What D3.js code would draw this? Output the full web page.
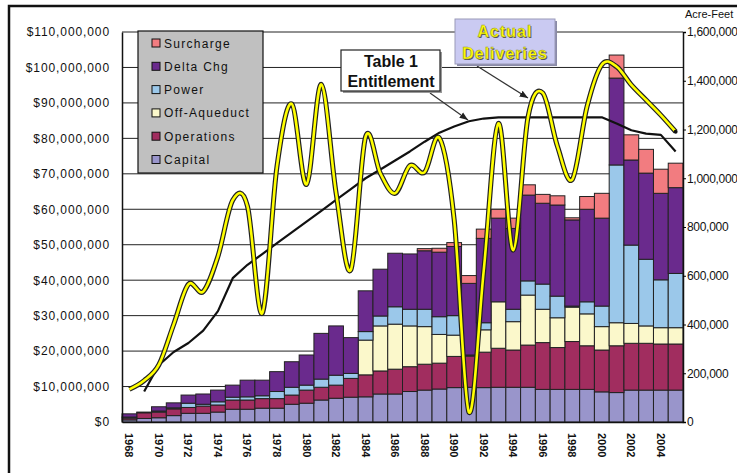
<!DOCTYPE html>
<html><head><meta charset="utf-8">
<script src="https://cdn.jsdelivr.net/npm/d3@7/dist/d3.min.js"></script>
<style>body{margin:0;background:#fff}svg{display:block}</style>
</head><body>
<script>
const years = [1968,1969,1970,1971,1972,1973,1974,1975,1976,1977,1978,1979,1980,1981,1982,1983,1984,1985,1986,1987,1988,1989,1990,1991,1992,1993,1994,1995,1996,1997,1998,1999,2000,2001,2002,2003,2004,2005];
// $ millions
const capital    = [0.6,1.0,1.2,1.8,2.45,2.45,2.8,3.6,3.6,3.9,3.9,5.0,5.3,6.2,6.7,7.0,7.1,7.9,7.9,8.6,9.0,9.3,9.7,9.8,9.7,9.8,9.8,9.8,9.2,9.2,9.2,9.2,8.5,8.3,9.0,9.0,9.0,9.0];
const operations = [0.5,1.6,1.6,1.9,1.65,2.05,2.0,2.6,2.6,2.7,2.7,2.6,3.7,3.6,3.7,5.3,6.2,6.5,7.0,7.0,7.3,7.3,8.8,8.8,10.0,11.0,10.5,11.9,13.2,11.8,13.5,12.3,11.8,13.2,13.2,13.2,13.0,13.0];
const offAqueduct= [0,0,0,0,0,0,0,0,0,0,0,0,0,0,0,0,9.8,12.7,12.7,11.5,10.6,8.1,6.0,0,6.3,13.1,8.0,14.1,9.4,8.4,9.7,9.0,6.6,6.5,5.6,4.9,4.6,4.6];
const power      = [0.3,0,0.3,0.3,1.2,0.5,0.9,0.8,0.9,0.8,2.0,2.2,1.4,2.3,2.8,1.4,2.4,2.8,4.9,4.7,4.9,5.0,5.5,0.3,2.0,0,3.5,4.0,7.1,6.1,0.3,3.4,5.8,44.5,22.1,18.8,13.5,15.3];
const deltaChg   = [0.9,0.2,1.2,1.4,2.3,2.9,3.3,3.4,4.7,4.4,5.6,7.2,8.5,12.9,13.9,10.1,11.5,13.2,15.1,15.6,16.5,18.2,19.5,20.2,23.8,23.6,22.8,24.2,22.8,25.7,24.3,26.1,24.8,24.5,24.0,24.3,24.4,24.2];
const surcharge  = [0,0,0,0,0,0,0,0,0,0,0,0,0,0,0,0,0,0,0,0,0.6,1.1,1.1,2.2,2.6,2.5,2.9,2.9,2.5,2.6,0.6,3.6,7.0,6.5,7.1,6.7,6.8,6.9];
// acre-feet
const actualDeliveries = [134000,170000,235000,400000,565000,535000,680000,910000,885000,446000,1050000,1305000,975000,1385000,940000,624000,1170000,1020000,938000,1052000,1025000,1165000,830000,40000,620000,1225000,705000,1250000,1350000,1130000,995000,1294000,1466000,1458000,1383000,1321000,1259000,1191000];
const table1Entitlement = [null,125000,234000,287000,324000,375000,455000,590000,645000,689000,734000,778000,822000,866000,911000,955000,1000000,1036000,1073000,1110000,1150000,1187000,1212000,1234000,1245000,1250000,1250000,1250000,1250000,1250000,1250000,1250000,1250000,1225000,1197000,1183000,1178000,1110000];
const leftTicks = [0,10,20,30,40,50,60,70,80,90,100,110];
const rightTicks = [0,200000,400000,600000,800000,1000000,1200000,1400000,1600000];
const xLabelYears = [1968,1970,1972,1974,1976,1978,1980,1982,1984,1986,1988,1990,1992,1994,1996,1998,2000,2002,2004];

const seriesKeys = ["Capital","Operations","Off-Aqueduct","Power","Delta Chg","Surcharge"];
const seriesArrays = [capital, operations, offAqueduct, power, deltaChg, surcharge];
const colors = {"Capital":"#9995CB","Operations":"#A12D5F","Off-Aqueduct":"#FBF8CB","Power":"#9BC8EA","Delta Chg":"#6A2A8D","Surcharge":"#F27C80"};

const W = 737, H = 473;
const svg = d3.select("body").append("svg").attr("width", W).attr("height", H)
  .style("font-family", "Arial, 'Liberation Sans', sans-serif");

const L = 122, R = 683, T = 32, B = 422;
const x = d3.scaleBand().domain(years).range([L, R]).padding(0);
const y = d3.scaleLinear().domain([0, 110]).range([B, T]);
const y2 = d3.scaleLinear().domain([0, 1600000]).range([B, T]);

// outer frame
svg.append("rect").attr("x", 9).attr("y", 6).attr("width", 760).attr("height", 500)
  .attr("fill", "none").attr("stroke", "#111").attr("stroke-width", 2.5);

// gridlines
svg.append("g").selectAll("line").data(leftTicks.filter(d => d > 0)).join("line")
  .attr("x1", L).attr("x2", R).attr("y1", d => y(d)).attr("y2", d => y(d))
  .attr("stroke", "#222").attr("stroke-width", 1);

// stacked bars
const rows = years.map((yr, i) => {
  const o = {year: yr};
  seriesKeys.forEach((k, j) => o[k] = seriesArrays[j][i]);
  return o;
});
const stacked = d3.stack().keys(seriesKeys)(rows);
svg.append("g").selectAll("g").data(stacked).join("g")
  .attr("fill", d => colors[d.key])
  .selectAll("rect").data(d => d.filter(p => p[1] - p[0] > 0)).join("rect")
  .attr("x", d => x(d.data.year))
  .attr("width", x.bandwidth())
  .attr("y", d => y(d[1]))
  .attr("height", d => y(d[0]) - y(d[1]))
  .attr("stroke", "#222").attr("stroke-width", 1);

// axes
const leftAxis = d3.axisLeft(y).tickValues(leftTicks).tickSize(0).tickPadding(12)
  .tickFormat(d => d3.format("$,")(d * 1e6));
const gl = svg.append("g").attr("transform", `translate(${L},0)`).call(leftAxis);
gl.select(".domain").attr("stroke", "#111").attr("stroke-width", 1.5);
gl.selectAll("text").attr("font-size", 12).attr("fill", "#111").attr("letter-spacing", "0.9px")
  .attr("font-family", "Arial, 'Liberation Sans', sans-serif");

const rightAxis = d3.axisRight(y2).tickValues(rightTicks).tickSize(3).tickPadding(1)
  .tickFormat(d3.format(","));
const gr = svg.append("g").attr("transform", `translate(${R},0)`).call(rightAxis);
gr.select(".domain").attr("stroke", "#111").attr("stroke-width", 1.5);
gr.selectAll("text").attr("font-size", 12).attr("fill", "#111").attr("letter-spacing", "-0.3px")
  .attr("font-family", "Arial, 'Liberation Sans', sans-serif");
svg.append("text").attr("x", 685).attr("y", 18).attr("font-size", 11).attr("fill", "#111")
  .text("Acre-Feet");

const bottomAxis = d3.axisBottom(x).tickValues(xLabelYears).tickSize(0).tickPadding(0);
const gb = svg.append("g").attr("transform", `translate(0,${B})`).call(bottomAxis);
gb.select(".domain").attr("stroke", "#111").attr("stroke-width", 1.5);
gb.selectAll("text")
  .attr("font-size", 11).attr("font-weight", "bold").attr("fill", "#111")
  .attr("font-family", "Arial, 'Liberation Sans', sans-serif")
  .attr("text-anchor", "start").attr("dy", null).attr("y", 0)
  .attr("transform", "translate(-4,11) rotate(90)");

// lines
const cx = d => x(d.year) + x.bandwidth() / 2;
const entData = years.map((yr, i) => ({year: yr, v: table1Entitlement[i]}));
const actData = years.map((yr, i) => ({year: yr, v: actualDeliveries[i]}));
const entLine = d3.line().defined(d => d.v != null).x(cx).y(d => y2(d.v)).curve(d3.curveLinear);
svg.append("path").datum(entData).attr("d", entLine).attr("fill", "none")
  .attr("stroke", "#111").attr("stroke-width", 2.2).attr("stroke-linejoin", "round");
const actLine = d3.line().x(cx).y(d => y2(d.v)).curve(d3.curveCardinal.tension(0));
svg.append("path").datum(actData).attr("d", actLine).attr("fill", "none")
  .attr("stroke", "#222").attr("stroke-width", 5).attr("stroke-linejoin", "round");
svg.append("path").datum(actData).attr("d", actLine).attr("fill", "none")
  .attr("stroke", "#FFFF00").attr("stroke-width", 2.6).attr("stroke-linejoin", "round");
const last = actData[actData.length - 1];
svg.append("circle").attr("cx", cx(last)).attr("cy", y2(last.v)).attr("r", 2).attr("fill", "#111");

// legend
const lg = svg.append("g");
lg.append("rect").attr("x", 138).attr("y", 31).attr("width", 125).attr("height", 142)
  .attr("fill", "#C0C0C0").attr("stroke", "#111").attr("stroke-width", 1.2);
const legendOrder = seriesKeys.slice().reverse();
legendOrder.forEach((k, i) => {
  const yy = 43 + i * 23.3;
  lg.append("rect").attr("x", 152).attr("y", yy - 4).attr("width", 8).attr("height", 8)
    .attr("fill", colors[k]).attr("stroke", "#111").attr("stroke-width", 1);
  lg.append("text").attr("x", 164).attr("y", yy + 4.5).attr("font-size", 12)
    .attr("letter-spacing", "1.3px").attr("fill", "#111").text(k);
});

// annotation: Table 1 Entitlement
const defs = svg.append("defs");
defs.append("marker").attr("id", "arr").attr("viewBox", "0 0 10 10").attr("refX", 10).attr("refY", 5)
  .attr("markerWidth", 7).attr("markerHeight", 7).attr("orient", "auto")
  .append("path").attr("d", "M0,1 L10,5 L0,9 Z").attr("fill", "#222");
svg.append("line").attr("x1", 430).attr("y1", 93).attr("x2", 468).attr("y2", 120)
  .attr("stroke", "#333").attr("stroke-width", 1.2).attr("marker-end", "url(#arr)");
svg.append("rect").attr("x", 343).attr("y", 52).attr("width", 99).attr("height", 41).attr("fill", "#999");
svg.append("rect").attr("x", 341).attr("y", 50).attr("width", 99).attr("height", 41)
  .attr("fill", "#fff").attr("stroke", "#222").attr("stroke-width", 1.2);
svg.append("text").attr("x", 391).attr("y", 67).attr("text-anchor", "middle").attr("font-size", 16)
  .attr("font-weight", "bold").attr("fill", "#111").text("Table 1");
svg.append("text").attr("x", 391).attr("y", 87).attr("text-anchor", "middle").attr("font-size", 16)
  .attr("font-weight", "bold").attr("fill", "#111").text("Entitlement");

// annotation: Actual Deliveries
svg.append("line").attr("x1", 477).attr("y1", 66).attr("x2", 528).attr("y2", 98)
  .attr("stroke", "#333").attr("stroke-width", 1.2).attr("marker-end", "url(#arr)");
svg.append("rect").attr("x", 457).attr("y", 21).attr("width", 100).attr("height", 45).attr("fill", "#8a8aa8");
svg.append("rect").attr("x", 455).attr("y", 19).attr("width", 100).attr("height", 45)
  .attr("fill", "#CACAF2").attr("stroke", "#9a9ab8").attr("stroke-width", 1);
[["Actual", 37], ["Deliveries", 59]].forEach(([t, yy]) => {
  svg.append("text").attr("x", 506).attr("y", yy + 1).attr("text-anchor", "middle").attr("font-size", 16)
    .attr("font-weight", "bold").attr("letter-spacing", "1px").attr("fill", "#555").text(t);
  svg.append("text").attr("x", 505).attr("y", yy).attr("text-anchor", "middle").attr("font-size", 16)
    .attr("font-weight", "bold").attr("letter-spacing", "1px").attr("fill", "#FFFF00")
    .attr("stroke", "#8a8a40").attr("stroke-width", 0.4).text(t);
});
</script>
</body></html>
